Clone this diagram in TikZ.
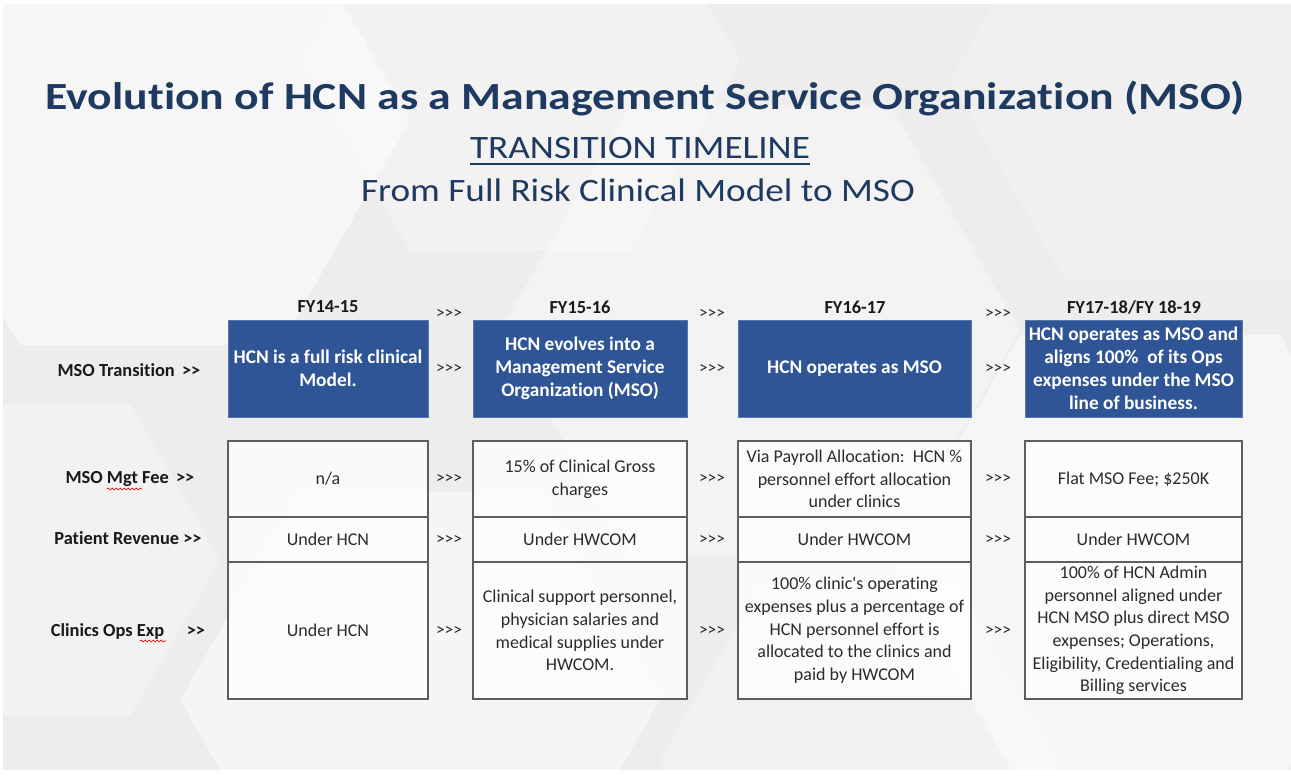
\documentclass[tikz,border=0pt]{standalone}
\usepackage{fontspec}
\setmainfont{Carlito}[Ligatures={NoCommon}]
\newfontfamily\titlefont[FakeStretch=1.19, Ligatures={NoCommon}]{Carlito}
\newfontfamily\subfont[FakeStretch=1.14, Ligatures={NoCommon}]{Carlito}
\usetikzlibrary{positioning,decorations.pathmorphing}

\definecolor{hcnnavy}{HTML}{1F3A60}
\definecolor{hcnblue}{HTML}{2F5597}
\definecolor{cellline}{HTML}{5E5E5E}
\definecolor{celltext}{HTML}{2B2B2B}
\definecolor{bggray}{HTML}{EDEDED}

\begin{document}
\begin{tikzpicture}[x=0.75pt,y=-0.75pt,
        bluebox/.style={rectangle, fill=hcnblue, draw=hcnblue!80!white, line width=0.6pt, minimum height=72.75pt, text=white, font=\bfseries\fontsize{14.5}{17.2}\selectfont, align=center, inner sep=1pt},
        cell/.style={rectangle, draw=cellline, line width=0.9pt, fill=white, fill opacity=0.75, text opacity=1, text=celltext, font=\fontsize{13.5}{17}\selectfont, align=center, inner sep=1pt, outer sep=0pt},
        rowlabel/.style={font=\bfseries\fontsize{13.8}{16}\selectfont, text=black!90},
        yearlabel/.style={font=\bfseries\fontsize{13.8}{16}\selectfont, text=black!90},
        sep/.style={font=\fontsize{13}{14}\selectfont, text=black!85},
        squiggle/.style={red!85!black, line width=0.5pt, decorate, decoration={snake, amplitude=0.7pt, segment length=3pt}},
      ]
      \useasboundingbox (0,0) rectangle (1291,777);
      % background with faint hexagons
      \fill[white] (0,0) rectangle (1291,777);
      \fill[bggray] (3,4) rectangle (1291,770);
      \begin{scope}
        \clip (3,4) rectangle (1291,770);
        \foreach \hx/\hy/\hr/\op in {150/120/260/0.55, 520/60/220/0.3, 1180/80/230/0.2, 1150/560/260/0.5, 420/700/240/0.45, 860/760/200/0.3, 40/560/180/0.3, 760/330/260/0.35}
          \fill[white, fill opacity=\op, shift={(\hx,\hy)}] (0:\hr) -- (60:\hr) -- (120:\hr) -- (180:\hr) -- (240:\hr) -- (300:\hr) -- cycle;
      \end{scope}

      % titles
      \node [font=\titlefont\bfseries\fontsize{28.8}{32}\selectfont, text=hcnnavy, anchor=base] (title) at (645,110) {Evolution of HCN as a Management Service Organization (MSO)};
      \node [font=\subfont\fontsize{24.5}{28}\selectfont, text=hcnnavy, anchor=base, inner sep=0pt] (sub1) at (640,159) {TRANSITION TIMELINE};
      \draw [hcnnavy, line width=1.6pt] (sub1.base west) ++(0,5) coordinate (ul1) -- (sub1.base east |- ul1);
      \node [font=\subfont\fontsize{24.5}{28}\selectfont, text=hcnnavy, anchor=base] (sub2) at (638,202) {From Full Risk Clinical Model to MSO};

      % years
      \node [yearlabel] (fy1) at (328,307) {FY14-15};
      \node [yearlabel] (fy2) at (580,307) {FY15-16};
      \node [yearlabel] (fy3) at (855,307) {FY16-17};
      \node [yearlabel] (fy4) at (1134,307) {FY17-18/FY 18-19};

      % row labels
      \node [rowlabel] (lbltrans) at (129,370) {MSO Transition \,>{}>};
      \node [rowlabel] (lblfee) at (130,479) {MSO Mgt Fee \,>{}>};
      \node [rowlabel] (lblrev) at (128,538) {Patient Revenue >{}>};
      \node [rowlabel] (lblops) at (128,631) {Clinics Ops Exp \quad>{}>};
      \draw [squiggle] (107,489) -- (142,489);
      \draw [squiggle] (140,641) -- (166,641);

      % transition boxes
      \node [bluebox, minimum width=150pt] (trans1) at (328,368.5) {HCN is a full risk clinical\\Model.};
      \node [bluebox, minimum width=160.5pt] (trans2) at (580,368.5) {HCN evolves into a\\Management Service\\Organization (MSO)};
      \node [bluebox, minimum width=174.75pt] (trans3) at (854.5,368.5) {HCN operates as MSO};
      \node [bluebox, minimum width=162.75pt] (trans4) at (1133.5,368.5) {HCN operates as MSO and\\aligns 100\%\ \ of its Ops\\expenses under the MSO\\line of business.};

      % fee row
      \node [cell, minimum width=150pt, minimum height=57pt] (fee1) at (328,479) {n/a};
      \node [cell, minimum width=160.5pt, minimum height=57pt] (fee2) at (580,479) {15\% of Clinical Gross\\charges};
      \node [cell, minimum width=174.75pt, minimum height=57pt] (fee3) at (854.5,479) {Via Payroll Allocation:\ \ HCN \%\\personnel effort allocation\\under clinics};
      \node [cell, minimum width=162.75pt, minimum height=57pt] (fee4) at (1133.5,479) {Flat MSO Fee; \$250K};

      % revenue row
      \node [cell, minimum width=150pt, minimum height=33.75pt, below=0pt of fee1] (rev1) {Under HCN};
      \node [cell, minimum width=160.5pt, minimum height=33.75pt, below=0pt of fee2] (rev2) {Under HWCOM};
      \node [cell, minimum width=174.75pt, minimum height=33.75pt, below=0pt of fee3] (rev3) {Under HWCOM};
      \node [cell, minimum width=162.75pt, minimum height=33.75pt, below=0pt of fee4] (rev4) {Under HWCOM};

      % ops row
      \node [cell, minimum width=150pt, minimum height=102.75pt, below=0pt of rev1] (ops1) {Under HCN};
      \node [cell, minimum width=160.5pt, minimum height=102.75pt, below=0pt of rev2] (ops2) {Clinical support personnel,\\physician salaries and\\medical supplies under\\HWCOM.};
      \node [cell, minimum width=174.75pt, minimum height=102.75pt, below=0pt of rev3] (ops3) {100\% clinic\textquotesingle s operating\\expenses plus a percentage of\\HCN personnel effort is\\allocated to the clinics and\\paid by HWCOM};
      \node [cell, minimum width=162.75pt, minimum height=102.75pt, below=0pt of rev4] (ops4) {100\% of HCN Admin\\personnel aligned under\\HCN MSO plus direct MSO\\expenses; Operations,\\Eligibility, Credentialing and\\Billing services};

      % >>> between columns
      \foreach \a/\sx in {1/449, 2/712, 3/998} {
        \node [sep] (hd\a) at (\sx,314) {>{}>{}>};
        \node [sep] (st\a) at (\sx,369) {>{}>{}>};
        \node [sep] (sf\a) at (\sx,479) {>{}>{}>};
        \node [sep] (sr\a) at (\sx,539.5) {>{}>{}>};
        \node [sep] (so\a) at (\sx,630.5) {>{}>{}>};
      }
    \end{tikzpicture}
\end{document}
